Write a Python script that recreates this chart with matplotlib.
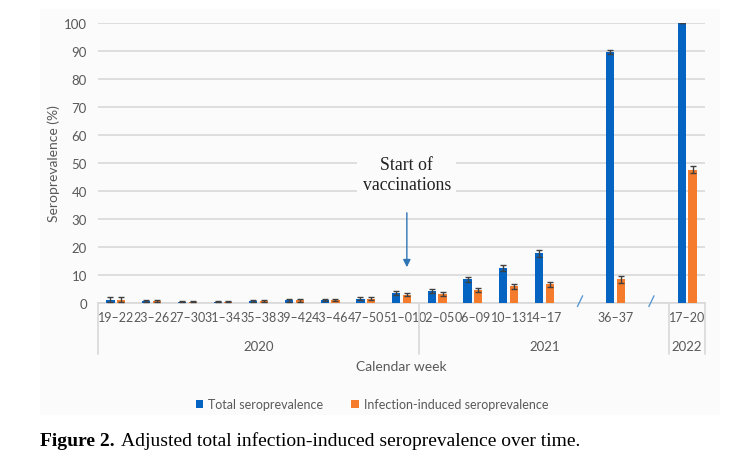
import numpy as np
import matplotlib.pyplot as plt
from matplotlib.patches import Rectangle
import matplotlib.transforms as mtransforms

# данные (слоты с '' - разрывы оси)
weeks = ['19–22', '23–26', '27–30', '31–34', '35–38', '39–42', '43–46', '47–50', '51–01',
         '02–05', '06–09', '10–13', '14–17', '', '36–37', '', '17–20']
years = ['2020', '2021', '2022']
year_bounds = [0, 9, 16, 17]  # границы групп по слотам

total = [1.2, 0.8, 0.5, 0.5, 0.8, 1.0, 1.1, 1.6, 3.5,
         4.3, 8.4, 12.4, 17.8, np.nan, 89.6, np.nan, 100.0]
total_err = [0.8, 0.4, 0.3, 0.3, 0.4, 0.5, 0.5, 0.7, 0.8,
             0.7, 0.8, 1.0, 1.2, np.nan, 0.8, np.nan, 0.0]
infection = [1.2, 0.8, 0.5, 0.5, 0.8, 1.0, 1.1, 1.6, 3.0,
             3.2, 4.8, 5.9, 6.7, np.nan, 8.4, np.nan, 47.6]
infection_err = [0.8, 0.4, 0.3, 0.3, 0.4, 0.5, 0.5, 0.7, 0.6,
                 0.6, 0.7, 0.9, 0.9, np.nan, 1.2, np.nan, 1.2]

blue = '#0563C1'
orange = '#F47C2C'
gray_text = '#595959'
grid_col = '#D9D9D9'

plt.rcParams['font.family'] = ['Lato', 'DejaVu Sans']

fig = plt.figure(figsize=(7.44, 4.64), dpi=100)
# светлый фон области диаграммы
bg = Rectangle((40 / 744, 1 - 416 / 464), 680 / 744, 406 / 464,
               transform=fig.transFigure, facecolor='#FBFBFB', edgecolor='none', zorder=-5)
fig.add_artist(bg)

ax = fig.add_axes([98 / 744, 1 - 304 / 464, 607 / 744, 280 / 464])
ax.set_facecolor('none')

x = np.arange(len(weeks))
w = 0.23
off = 0.15
ekw = dict(ecolor='#404040', elinewidth=1, capsize=2.5, capthick=1)
ax.bar(x - off, total, w, yerr=total_err, color=blue, label='Total seroprevalence',
       error_kw=ekw, zorder=3)
ax.bar(x + off, infection, w, yerr=infection_err, color=orange,
       label='Infection-induced seroprevalence', error_kw=ekw, zorder=3)

ax.set_xlim(-0.5, len(weeks) - 0.5)
ax.set_ylim(0, 100)
ax.set_yticks(np.arange(0, 101, 10))
ax.yaxis.grid(True, color=grid_col, linewidth=1.2, zorder=0)
ax.set_axisbelow(True)
for s in ['top', 'right', 'left']:
    ax.spines[s].set_visible(False)
ax.spines['bottom'].set_color(grid_col)
ax.spines['bottom'].set_linewidth(1.2)
ax.tick_params(axis='y', length=0, labelsize=9.5, labelcolor=gray_text, pad=8)
ax.tick_params(axis='x', length=0, labelsize=9, labelcolor=gray_text, pad=6)
ax.set_xticks(x)
ax.set_xticklabels(weeks)

# группировка по годам
trans = mtransforms.blended_transform_factory(ax.transData, ax.transAxes)
for b in year_bounds:
    ax.plot([b - 0.5, b - 0.5], [0, -0.182], transform=trans, color=grid_col,
            linewidth=1.2, clip_on=False)
for i, yr in enumerate(years):
    cx = (year_bounds[i] + year_bounds[i + 1] - 1) / 2
    ax.text(cx, -0.155, yr, transform=trans, ha='center', va='center',
            fontsize=9.5, color=gray_text)

# значки разрыва оси
for i, lab in enumerate(weeks):
    if lab == '':
        ax.plot([i - 0.07, i + 0.07], [-0.012, 0.025], transform=trans, color='#5B9BD5',
                linewidth=1, clip_on=False, zorder=5)

ax.text(0.5, -0.225, 'Calendar week', transform=ax.transAxes, ha='center', va='center',
        fontsize=10, color=gray_text)
ax.set_ylabel('Seroprevalence (%)', fontsize=10, color=gray_text, labelpad=3)

# аннотация начала вакцинации
iv = weeks.index('51–01')
ax.annotate('', xy=(iv + off, 11.8), xytext=(iv + off, 33.2),
            arrowprops=dict(arrowstyle='-|>', color='#2E75B6', lw=1, mutation_scale=11))
ax.text(iv + off, 45.9, 'Start of\nvaccinations', ha='center', va='center',
        fontsize=12.8, family='Liberation Serif', color='#222222', linespacing=1.2,
        bbox=dict(boxstyle='square,pad=0.3', facecolor='#FBFBFB', edgecolor='none'),
        zorder=4)

fig.legend(loc='center', bbox_to_anchor=(0.5, 1 - 405 / 464), ncol=2, frameon=False,
           fontsize=9, handlelength=0.6, handleheight=0.6, handletextpad=0.4,
           columnspacing=2.2, labelcolor=gray_text)

# подпись рисунка
t1 = fig.text(40 / 744, 1 - 441 / 464, 'Figure 2.', fontsize=14, fontweight='bold',
              family='Liberation Serif', va='center', ha='left')
fig.canvas.draw()
bb = t1.get_window_extent()
fig.text((bb.x1 + 6) / 744, 1 - 441 / 464,
         'Adjusted total infection-induced seroprevalence over time.',
         fontsize=14, family='Liberation Serif', va='center', ha='left')

fig.savefig('out.png', dpi=100)
